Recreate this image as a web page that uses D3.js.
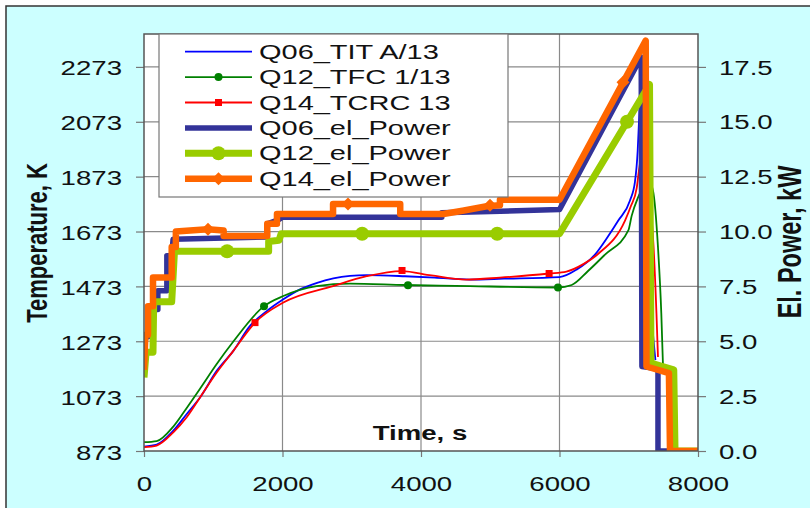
<!DOCTYPE html>
<html>
<head>
<meta charset="utf-8">
<script src="https://cdn.jsdelivr.net/npm/d3@7"></script>
<style>
  html, body { margin: 0; padding: 0; background: #fff; }
  svg { display: block; font-family: "Liberation Sans", Arial, sans-serif; }
</style>
</head>
<body>
<div id="chart"></div>
<script>
const WIDTH = 810;
const HEIGHT = 508;
const SX = 1.38;   // the source picture is stretched sideways, text too

// axes
const timeTicks = [0, 2000, 4000, 6000, 8000];
const tempTicks = [873, 1073, 1273, 1473, 1673, 1873, 2073, 2273];
const powerTicks = [0, 2.5, 5.0, 7.5, 10.0, 12.5, 15.0, 17.5];
const tempDomain = [873, 2393];
const powerDomain = [0, 19];
const timeDomain = [0, 8000];

// temperatures [time s, K]
const q06TIT = [[0,889],[183,896],[423,947],[617,1008],[809,1068],[1050,1165],[1290,1238],[1531,1329],
  [1772,1383],[2012,1426],[2253,1462],[2500,1486],[2975,1511],[3216,1514],[3769,1510],[4200,1505],
  [4700,1498],[5200,1501],[6000,1507],[6250,1535],[6512,1589],[6700,1655],[6849,1713],[7018,1786],
  [7090,1855],[7129,1967],[7148,2076],[7162,2149],[7175,2200],[7340,1330],[7385,1204]];
const q12TFC = [[0,905],[183,909],[423,962],[617,1030],[809,1100],[1050,1190],[1290,1272],[1733,1401],
  [2012,1438],[2494,1474],[2975,1483],[3769,1478],[4500,1475],[5978,1469],[6176,1478],[6412,1529],
  [6657,1589],[6994,1677],[7042,1730],[7130,1795],[7220,1838],[7300,1850],[7350,1822],[7422,1616],
  [7470,1375],[7495,1180]];
const q14TCRC = [[0,887],[183,893],[423,941],[617,996],[809,1068],[1050,1159],[1290,1238],[1603,1341],
  [2012,1414],[2729,1474],[3216,1510],[3721,1529],[4150,1513],[4650,1498],[5140,1505],[5850,1520],
  [6100,1527],[6350,1555],[6560,1592],[6946,1713],[7030,1765],[7114,1830],[7150,1900],[7190,1955],
  [7350,1652],[7400,1375],[7422,1216]];

// electric power [time s, kW]
const q06Power = [[0,3.6],[15,5.2],[58,5.2],[58,6.45],[200,6.45],[200,7.3],[330,7.3],[330,8.9],
  [400,8.9],[420,9.65],[1780,9.75],[1780,10.35],[1950,10.55],[2000,10.65],[4300,10.65],[4300,10.85],
  [6000,11.0],[7180,17.95],[7190,3.85],[7422,3.75],[7422,0],[8000,0]];
const q12Power = [[0,3.35],[30,4.5],[130,4.5],[140,6.8],[400,6.8],[440,9.1],[1800,9.1],[1800,9.55],
  [1950,9.6],[1980,9.9],[6000,9.9],[7300,16.7],[7321,4.0],[7650,3.7],[7668,0],[8000,0]];
const q14Power = [[0,3.7],[20,5.3],[58,5.3],[58,6.6],[130,6.6],[130,7.9],[400,7.9],[400,9.3],
  [460,9.3],[460,10.0],[920,10.1],[1150,10.05],[1150,9.8],[1780,9.8],[1780,10.35],[1920,10.35],
  [1920,10.8],[2730,10.8],[2730,11.25],[3700,11.25],[3700,10.8],[4320,10.8],[4600,10.95],
  [4950,11.15],[5140,11.2],[5140,11.45],[6000,11.45],[7245,18.7],[7256,3.85],[7580,3.55],
  [7596,0],[8000,0]];

// markers sit on a few points only
const q12TFCMarks = [[1733,1401],[3812,1477],[5978,1469]];
const q14TCRCMarks = [[1603,1341],[3726,1531],[5850,1520]];
const q12PowerMarks = [[1200,9.1],[3150,9.9],[5100,9.9],[6975,15.0]];
const q14PowerMarks = [[924,10.1],[2946,11.25],[4996,11.2],[6917,16.8]];

const legendNames = ["Q06_TIT A/13", "Q12_TFC 1/13", "Q14_TCRC 13", "Q06_el_Power", "Q12_el_Power", "Q14_el_Power"];

const plot = { left: 144, right: 698, top: 34, bottom: 451 };

const svg = d3.select("#chart").append("svg")
  .attr("width", WIDTH)
  .attr("height", HEIGHT);

// chart area
svg.append("rect")
  .attr("x", 6).attr("y", 6)
  .attr("width", WIDTH).attr("height", HEIGHT)
  .attr("fill", "#ccffff")
  .attr("stroke", "#333")
  .attr("stroke-width", 1.5);

svg.append("rect")
  .attr("x", plot.left).attr("y", plot.top)
  .attr("width", plot.right - plot.left).attr("height", plot.bottom - plot.top)
  .attr("fill", "#fff");

svg.append("clipPath").attr("id", "plot-clip")
  .append("rect")
  .attr("x", plot.left).attr("y", plot.top)
  .attr("width", plot.right - plot.left).attr("height", plot.bottom - plot.top);

const x = d3.scaleLinear().domain(timeDomain).range([plot.left, plot.right]);
const yT = d3.scaleLinear().domain(tempDomain).range([plot.bottom, plot.top]);
const yP = d3.scaleLinear().domain(powerDomain).range([plot.bottom, plot.top]);

// grid
const grid = svg.append("g").attr("stroke", "#8a8a8a").attr("stroke-width", 1.2);
grid.selectAll(".hgrid")
  .data(tempTicks.slice(1))
  .enter().append("line")
  .attr("x1", plot.left).attr("x2", plot.right)
  .attr("y1", d => yT(d)).attr("y2", d => yT(d));
grid.selectAll(".vgrid")
  .data(timeTicks.slice(1, -1))
  .enter().append("line")
  .attr("y1", plot.top).attr("y2", plot.bottom)
  .attr("x1", d => x(d)).attr("x2", d => x(d));

// axes
function styleAxis(g) {
  g.select(".domain").remove();
  g.selectAll(".tick line").attr("stroke", "#777").attr("stroke-width", 1.2);
  g.selectAll(".tick text")
    .attr("fill", "#111")
    .style("font-size", "20px");
}

svg.append("g")
  .attr("transform", `translate(${plot.left},0)`)
  .call(d3.axisLeft(yT).tickValues(tempTicks).tickSize(8).tickFormat(d3.format("d")))
  .call(styleAxis)
  .call(g => g.selectAll(".tick text")
    .attr("x", -22 / SX).attr("dy", "0.4em")
    .attr("transform", `scale(${SX},1)`));

svg.append("g")
  .attr("transform", `translate(${plot.right},0)`)
  .call(d3.axisRight(yP).tickValues(powerTicks).tickSize(8).tickFormat(d3.format(".1f")))
  .call(styleAxis)
  .call(g => g.selectAll(".tick text")
    .attr("x", 21 / SX).attr("dy", "0.36em")
    .attr("transform", `scale(${SX},1)`));

svg.append("g")
  .attr("transform", `translate(0,${plot.bottom})`)
  .call(d3.axisBottom(x).tickValues(timeTicks).tickSize(6).tickFormat(d3.format("d")))
  .call(styleAxis)
  .call(g => g.selectAll(".tick text")
    .attr("y", 26)
    .attr("transform", `scale(${SX},1)`));

// lines
const lineT = d3.line().x(d => x(d[0])).y(d => yT(d[1])).curve(d3.curveMonotoneX);
const lineP = d3.line().x(d => x(d[0])).y(d => yP(d[1]));

const series = [
  { data: q06TIT,   line: lineT, y: yT, color: "#0000ff", width: 1.8 },
  { data: q12TFC,   line: lineT, y: yT, color: "#008000", width: 1.8, marks: q12TFCMarks, shape: "circle", size: 4 },
  { data: q14TCRC,  line: lineT, y: yT, color: "#ff0000", width: 1.8, marks: q14TCRCMarks, shape: "square", size: 3.5 },
  { data: q06Power, line: lineP, y: yP, color: "#333399", width: 5.5 },
  { data: q12Power, line: lineP, y: yP, color: "#99cc00", width: 7, marks: q12PowerMarks, shape: "circle", size: 7 },
  { data: q14Power, line: lineP, y: yP, color: "#ff6600", width: 6.5, marks: q14PowerMarks, shape: "diamond", size: 6.5 }
];

function drawMarker(g, shape, size, color, cx, cy) {
  if (shape === "circle") {
    g.append("circle").attr("cx", cx).attr("cy", cy).attr("r", size).attr("fill", color);
  } else if (shape === "square") {
    g.append("rect").attr("x", cx - size).attr("y", cy - size)
      .attr("width", size * 2).attr("height", size * 2).attr("fill", color);
  } else {
    g.append("path")
      .attr("d", `M${cx},${cy - size}L${cx + size},${cy}L${cx},${cy + size}L${cx - size},${cy}Z`)
      .attr("fill", color);
  }
}

const lines = svg.append("g").attr("clip-path", "url(#plot-clip)");
series.forEach(s => {
  lines.append("path")
    .attr("d", s.line(s.data))
    .attr("fill", "none")
    .attr("stroke", s.color)
    .attr("stroke-width", s.width)
    .attr("stroke-linejoin", "round");
  if (s.marks) {
    s.marks.forEach(m => drawMarker(lines, s.shape, s.size, s.color, x(m[0]), s.y(m[1])));
  }
});

// plot border
svg.append("rect")
  .attr("x", plot.left).attr("y", plot.top)
  .attr("width", plot.right - plot.left).attr("height", plot.bottom - plot.top)
  .attr("fill", "none")
  .attr("stroke", "#555")
  .attr("stroke-width", 1.5);

// titles
svg.append("text")
  .attr("transform", `translate(420,440) scale(${SX},1)`)
  .attr("text-anchor", "middle")
  .style("font-size", "20px").style("font-weight", "700")
  .attr("fill", "#111")
  .text("Time, s");

svg.append("text")
  .attr("transform", `translate(36,243) scale(${SX},1) rotate(-90)`)
  .attr("text-anchor", "middle").attr("dy", "0.35em")
  .style("font-size", "22px").style("font-weight", "700")
  .attr("fill", "#111")
  .text("Temperature, K");

svg.append("text")
  .attr("transform", `translate(790,242) scale(${SX},1) rotate(-90)`)
  .attr("text-anchor", "middle").attr("dy", "0.35em")
  .style("font-size", "23.5px").style("font-weight", "700")
  .attr("fill", "#111")
  .text("El. Power, kW");

// legend
const legend = svg.append("g");
legend.append("rect")
  .attr("x", 159).attr("y", 34)
  .attr("width", 349).attr("height", 163)
  .attr("fill", "#fff")
  .attr("stroke", "#777")
  .attr("stroke-width", 1.2);

series.forEach((s, i) => {
  const ly = 51.7 + i * 25.4;
  legend.append("line")
    .attr("x1", 185).attr("x2", 252)
    .attr("y1", ly).attr("y2", ly)
    .attr("stroke", s.color)
    .attr("stroke-width", s.width);
  if (s.marks) drawMarker(legend, s.shape, s.size, s.color, 218.5, ly);
  legend.append("text")
    .attr("transform", `translate(259,${ly + 7}) scale(${SX},1)`)
    .style("font-size", "21px")
    .attr("fill", "#111")
    .text(legendNames[i]);
});
</script>
</body>
</html>
